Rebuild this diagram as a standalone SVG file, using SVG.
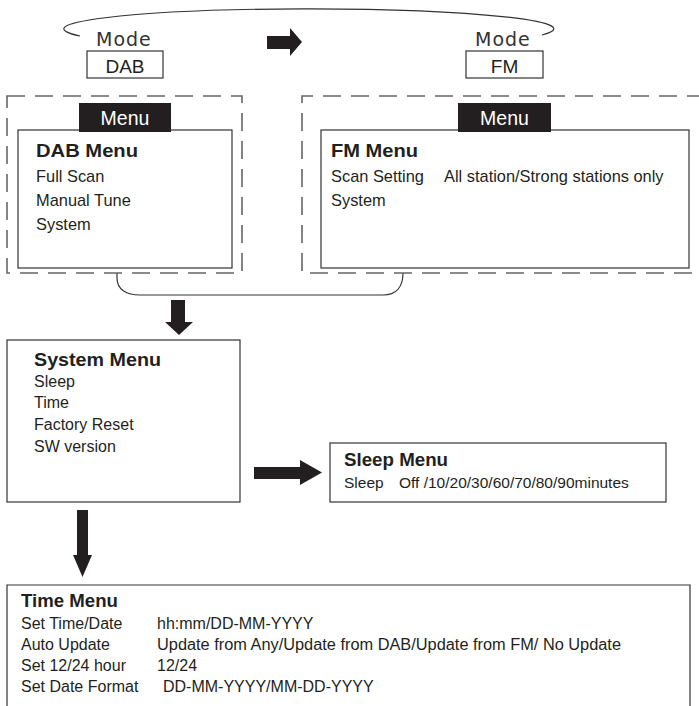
<svg xmlns="http://www.w3.org/2000/svg" width="699" height="706" viewBox="0 0 699 706">
<style>
  text { font-family: "Liberation Sans", Arial, sans-serif; fill: #231f20; }
  .mode { font-family: "DejaVu Sans", Verdana, sans-serif; font-size: 19px; letter-spacing: 1px; fill: #333; }
  .lbl { font-size: 19px; }
  .tab { fill: #231f20; }
  .tabtxt { font-size: 19.5px; fill: #fff; text-anchor: middle; }
  .box { fill: #fff; stroke: #333; stroke-width: 1.2; }
  .dash { fill: none; stroke: #666; stroke-width: 1.6; stroke-dasharray: 18 10; }
  .title { font-size: 17.5px; font-weight: bold; }
  .t1 { font-size: 16.4px; }
  .t2 { font-size: 16px; }
  .t3 { font-size: 15.5px; }
  .t4 { font-size: 16px; }
  .arrow { fill: #231f20; }
  .line { fill: none; stroke: #333; stroke-width: 1.2; }
</style>

<g id="connectors">
  <path class="line" d="M80,36 A245,20 0 1 1 542,35"/>
  <path class="arrow" d="M267,36 H290 V28 L302,42 L290,56 V49 H267 Z"/>
  <path class="line" d="M117,273 V278 C117,290 127,295 140,295 H383 C396,295 403,287 403,273"/>
  <path class="arrow" d="M171,300 H185 V322 H193 L179,335 L165,322 H171 Z"/>
  <path class="arrow" d="M254,467 H300 V460 L322,472.5 L300,485 V479 H254 Z"/>
  <path class="arrow" d="M77,510 H88 V555 H92 L82.5,577 L73,555 H77 Z"/>
</g>

<g id="mode-dab">
  <text class="mode" x="96" y="46">Mode</text>
  <rect class="box" x="87" y="51" width="76" height="27"/>
  <text class="lbl" x="125" y="73" text-anchor="middle">DAB</text>
</g>

<g id="mode-fm">
  <text class="mode" x="475" y="46">Mode</text>
  <rect class="box" x="466" y="51" width="77" height="27"/>
  <text class="lbl" x="504.5" y="73" text-anchor="middle">FM</text>
</g>

<g id="dab-menu">
  <rect class="dash" x="7" y="96" width="235" height="177"/>
  <rect class="box" x="18" y="130" width="214" height="138"/>
  <rect class="tab" x="79" y="103" width="92" height="29"/>
  <text class="tabtxt" x="125" y="125">Menu</text>
  <text class="title" x="36" y="157" textLength="102" lengthAdjust="spacingAndGlyphs">DAB Menu</text>
  <text class="t1" x="36" y="182">Full Scan</text>
  <text class="t1" x="36" y="206">Manual Tune</text>
  <text class="t1" x="36" y="230">System</text>
</g>

<g id="fm-menu">
  <path class="dash" d="M705,96 H302 V273 H705"/>
  <rect class="box" x="321" y="130" width="368" height="138"/>
  <rect class="tab" x="458" y="103" width="93" height="29"/>
  <text class="tabtxt" x="504.5" y="125">Menu</text>
  <text class="title" x="331" y="157" textLength="87" lengthAdjust="spacingAndGlyphs">FM Menu</text>
  <text class="t1" x="331" y="182">Scan Setting</text>
  <text class="t1" x="444" y="182">All station/Strong stations only</text>
  <text class="t1" x="331" y="206">System</text>
</g>

<g id="system-menu">
  <rect class="box" x="7" y="340" width="233" height="162"/>
  <text class="title" x="34" y="366" textLength="127" lengthAdjust="spacingAndGlyphs">System Menu</text>
  <text class="t2" x="34" y="387">Sleep</text>
  <text class="t2" x="34" y="408">Time</text>
  <text class="t2" x="34" y="430">Factory Reset</text>
  <text class="t2" x="34" y="452">SW version</text>
</g>

<g id="sleep-menu">
  <rect class="box" x="330" y="443" width="336" height="59"/>
  <text class="title" x="344" y="466" textLength="104" lengthAdjust="spacingAndGlyphs">Sleep Menu</text>
  <text class="t3" x="344" y="488">Sleep</text>
  <text class="t3" x="399" y="488">Off /10/20/30/60/70/80/90minutes</text>
</g>

<g id="time-menu">
  <path class="box" d="M7,712 V585 H690 V712"/>
  <text class="title" x="21" y="607" textLength="97" lengthAdjust="spacingAndGlyphs">Time Menu</text>
  <text class="t4" x="21" y="629">Set Time/Date</text>
  <text class="t4" x="157" y="629">hh:mm/DD-MM-YYYY</text>
  <text class="t4" x="21" y="650">Auto Update</text>
  <text class="t4" x="157" y="650" textLength="464" lengthAdjust="spacingAndGlyphs">Update from Any/Update from DAB/Update from FM/ No Update</text>
  <text class="t4" x="21" y="671">Set 12/24 hour</text>
  <text class="t4" x="157" y="671">12/24</text>
  <text class="t4" x="21" y="692">Set Date Format</text>
  <text class="t4" x="163" y="692">DD-MM-YYYY/MM-DD-YYYY</text>
</g>
</svg>
